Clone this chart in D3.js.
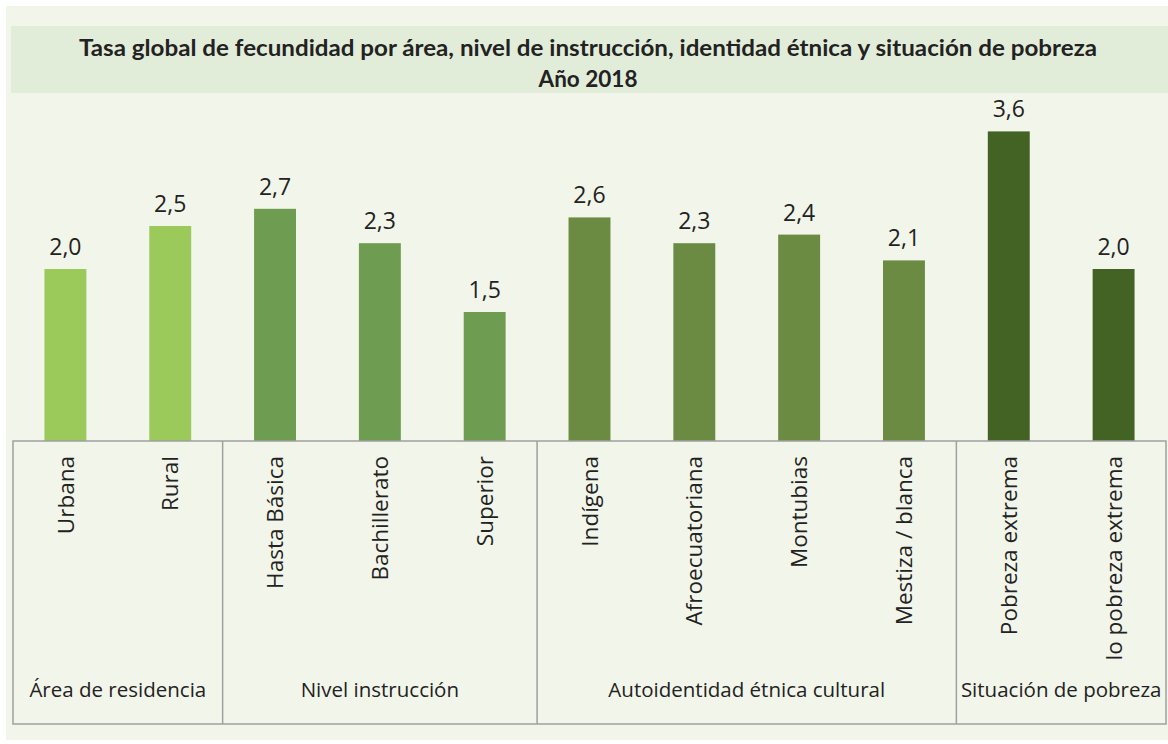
<!DOCTYPE html>
<html>
<head>
<meta charset="utf-8">
<script src="https://cdn.jsdelivr.net/npm/d3@7"></script>
<style>
  html, body { margin: 0; padding: 0; background: #fff; }
  svg { display: block; }
</style>
</head>
<body>
<div id="chart"></div>
<script>
const categories = ["Urbana", "Rural", "Hasta Básica", "Bachillerato", "Superior", "Indígena",
  "Afroecuatoriana", "Montubias", "Mestiza / blanca", "Pobreza extrema", "lo pobreza extrema"]
const values = [2.0, 2.5, 2.7, 2.3, 1.5, 2.6, 2.3, 2.4, 2.1, 3.6, 2.0]
const groupOf = [0, 0, 1, 1, 1, 2, 2, 2, 2, 3, 3]
const groups = ["Área de residencia", "Nivel instrucción", "Autoidentidad étnica cultural", "Situación de pobreza"]
const groupColors = ["#9bc95a", "#6e9c50", "#6b8b42", "#426324"]
const titleLines = ["Tasa global de fecundidad por área, nivel de instrucción, identidad étnica y situación de pobreza", "Año 2018"]

const width = 1168, height = 744
const boxLeft = 13, boxRight = 1166, baseY = 441, boxBottom = 724
const textColor = "#222"
const lineColor = "#a0a0a0"

const svg = d3.select("#chart").append("svg").attr("width", width).attr("height", height)

// background panel + title band
svg.append("rect").attr("x", 6).attr("y", 6).attr("width", width - 6).attr("height", height - 10).attr("fill", "#f2f6ea")
svg.append("rect").attr("x", 11).attr("y", 26).attr("width", width - 11).attr("height", 67).attr("fill", "#e2edd9")

const title = svg.append("g").attr("font-family", "Lato, 'Open Sans', sans-serif").attr("font-weight", "bold")
  .attr("fill", textColor).attr("text-anchor", "middle")
title.append("text").attr("x", 588).attr("y", 56).attr("font-size", 22.5).text(titleLines[0])
  .each(function () {
    const w = this.getComputedTextLength()
    if (Math.abs(w - 1018) > 4) d3.select(this).attr("textLength", 1018).attr("lengthAdjust", "spacingAndGlyphs")
  })
title.append("text").attr("x", 588).attr("y", 87).attr("font-size", 22.5).text(titleLines[1])

const x = d3.scaleBand().domain(categories).range([boxLeft, boxRight]).paddingInner(0.6).paddingOuter(0.3)
const xStep = d3.scaleBand().domain(categories).range([boxLeft, boxRight])
const y = d3.scaleLinear().domain([0, 1]).range([baseY, baseY - 86])

// bars
svg.selectAll(".bar").data(values).join("rect")
  .attr("class", "bar")
  .attr("x", (d, i) => x(categories[i]))
  .attr("y", d => y(d))
  .attr("width", x.bandwidth())
  .attr("height", d => baseY - y(d))
  .attr("fill", (d, i) => groupColors[groupOf[i]])

// value labels
svg.selectAll(".val").data(values).join("text")
  .attr("class", "val")
  .attr("x", (d, i) => x(categories[i]) + x.bandwidth() / 2)
  .attr("y", d => y(d) - 14)
  .attr("text-anchor", "middle")
  .attr("font-family", "'Open Sans', sans-serif")
  .attr("font-size", 23)
  .attr("fill", textColor)
  .text(d => d3.format(".1f")(d).replace(".", ","))

// category box
const box = svg.append("g").attr("stroke", lineColor).attr("stroke-width", 1.5).attr("fill", "none")
box.append("rect").attr("x", boxLeft).attr("y", baseY).attr("width", boxRight - boxLeft).attr("height", boxBottom - baseY)

const groupStart = groups.map((g, k) => groupOf.indexOf(k))
const groupEnd = groups.map((g, k) => groupOf.lastIndexOf(k))
groupStart.slice(1).forEach(s => {
  const sx = xStep(categories[s])
  box.append("line").attr("x1", sx).attr("x2", sx).attr("y1", baseY).attr("y2", boxBottom)
})

// rotated category labels
svg.selectAll(".cat").data(categories).join("text")
  .attr("class", "cat")
  .attr("transform", d => `translate(${x(d) + x.bandwidth() / 2},${baseY + 15}) rotate(-90)`)
  .attr("dy", "0.36em")
  .attr("text-anchor", "end")
  .attr("font-family", "'Open Sans', sans-serif")
  .attr("font-size", 22.5)
  .attr("fill", textColor)
  .text(d => d)

// group labels
svg.selectAll(".grp").data(groups).join("text")
  .attr("class", "grp")
  .attr("x", (g, k) => (xStep(categories[groupStart[k]]) + xStep(categories[groupEnd[k]]) + xStep.bandwidth()) / 2)
  .attr("y", 697)
  .attr("text-anchor", "middle")
  .attr("font-family", "'Open Sans', sans-serif")
  .attr("font-size", 20.5)
  .attr("fill", textColor)
  .text(g => g)
</script>
</body>
</html>
